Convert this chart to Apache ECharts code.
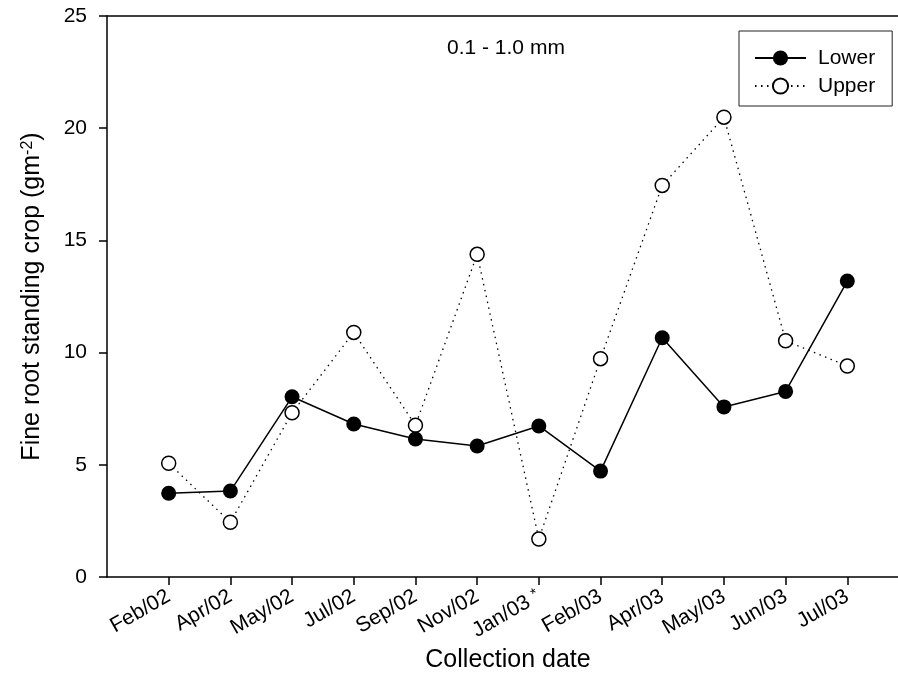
<!DOCTYPE html>
<html>
<head>
<meta charset="utf-8">
<script src="https://cdn.jsdelivr.net/npm/echarts@6/dist/echarts.min.js"></script>
<style>
  html, body { margin: 0; padding: 0; background: #fff; }
  #chart { width: 898px; height: 673px; }
</style>
</head>
<body>
<div id="chart"></div>
<script>
// Collection dates (the starred one carries a footnote mark)
const categories = ['Feb/02', 'Apr/02', 'May/02', 'Jul/02', 'Sep/02', 'Nov/02',
                    'Jan/03 *', 'Feb/03', 'Apr/03', 'May/03', 'Jun/03', 'Jul/03'];
// Fine root standing crop, g m^-2
const lower = [3.73, 3.83, 8.03, 6.82, 6.15, 5.84, 6.73, 4.72, 10.66, 7.58, 8.27, 13.19];
const upper = [5.07, 2.44, 7.32, 10.90, 6.76, 14.38, 1.69, 9.73, 17.45, 20.49, 10.53, 9.40];
const yTicks = [0, 5, 10, 15, 20, 25];
const sizeClass = '0.1 - 1.0 mm';

const FONT = "'Liberation Sans', Arial, Helvetica, sans-serif";
const AXIS = { color: '#000', width: 1.5 };

// Pad the category axis with an empty slot on each side so the dates sit one step in
const xCats = [''].concat(categories, ['']);
const isDate = (i) => i > 0 && i <= categories.length;

const chart = echarts.init(document.getElementById('chart'), null, { renderer: 'canvas' });

chart.setOption({
  animation: false,
  backgroundColor: '#fff',
  textStyle: { fontFamily: FONT, color: '#000' },
  title: {
    text: sizeClass,
    left: 442,
    top: 33,
    textStyle: { fontFamily: FONT, fontSize: 21, fontWeight: 'normal', color: '#000' }
  },
  legend: {
    data: ['Lower', 'Upper'],
    orient: 'vertical',
    left: 739,
    top: 31,
    padding: [15, 17, 8, 15],
    itemWidth: 51,
    itemHeight: 19,
    itemGap: 4,
    borderColor: '#222',
    borderWidth: 1,
    textStyle: { fontFamily: FONT, fontSize: 21, color: '#000', lineHeight: 24, padding: [0, 0, 0, 7] }
  },
  grid: { left: 107, top: 16, right: -11, bottom: 96, containLabel: false, outerBoundsMode: 'none' },
  xAxis: [
    {
      type: 'category',
      data: xCats,
      boundaryGap: false,
      axisLine: { show: true, lineStyle: AXIS },
      axisTick: { show: true, length: 8, interval: (i) => isDate(i), lineStyle: AXIS },
      axisLabel: {
        interval: (i) => isDate(i),
        rotate: 30,
        margin: 18,
        fontFamily: FONT,
        fontSize: 21,
        color: '#000',
        formatter: (v) => v.endsWith(' *') ? '{a|' + v.slice(0, -2) + '} {s|*}' : v,
        rich: {
          a: { fontFamily: FONT, fontSize: 21, color: '#000' },
          s: { fontFamily: FONT, fontSize: 15, color: '#000', verticalAlign: 'top' }
        }
      },
      splitLine: { show: false },
      name: 'Collection date',
      nameLocation: 'middle',
      nameGap: 68,
      nameTextStyle: { fontFamily: FONT, fontSize: 25, color: '#000' }
    },
    {
      type: 'value',
      position: 'top',
      min: 0,
      max: 1,
      axisLine: { show: true, onZero: false, lineStyle: AXIS },
      axisTick: { show: false },
      axisLabel: { show: false },
      splitLine: { show: false }
    }
  ],
  yAxis: {
    type: 'value',
    min: yTicks[0],
    max: yTicks[yTicks.length - 1],
    interval: yTicks[1] - yTicks[0],
    axisLine: { show: true, onZero: false, lineStyle: AXIS },
    axisTick: { show: true, length: 8, lineStyle: AXIS },
    axisLabel: { margin: 20, fontFamily: FONT, fontSize: 21, color: '#000' },
    splitLine: { show: false },
    name: '{a|Fine root standing crop (gm}{s|-2}{a|)}',
    nameLocation: 'middle',
    nameGap: 62,
    nameTextStyle: {
      rich: {
        a: { fontFamily: FONT, fontSize: 25, color: '#000' },
        s: { fontFamily: FONT, fontSize: 16, color: '#000', verticalAlign: 'top' }
      }
    }
  },
  series: [
    {
      name: 'Upper',
      type: 'line',
      data: [null].concat(upper),
      symbol: 'circle',
      symbolSize: 14,
      showAllSymbol: true,
      z: 2,
      itemStyle: { color: '#fff', borderColor: '#000', borderWidth: 1.5 },
      lineStyle: { color: '#000', width: 1.3, type: [1.5, 4.5] },
      emphasis: { disabled: true }
    },
    {
      name: 'Lower',
      type: 'line',
      data: [null].concat(lower),
      symbol: 'circle',
      symbolSize: 15,
      showAllSymbol: true,
      z: 3,
      itemStyle: { color: '#000', borderColor: '#000', borderWidth: 0 },
      lineStyle: { color: '#000', width: 1.5 },
      emphasis: { disabled: true }
    }
  ]
});
</script>
</body>
</html>
